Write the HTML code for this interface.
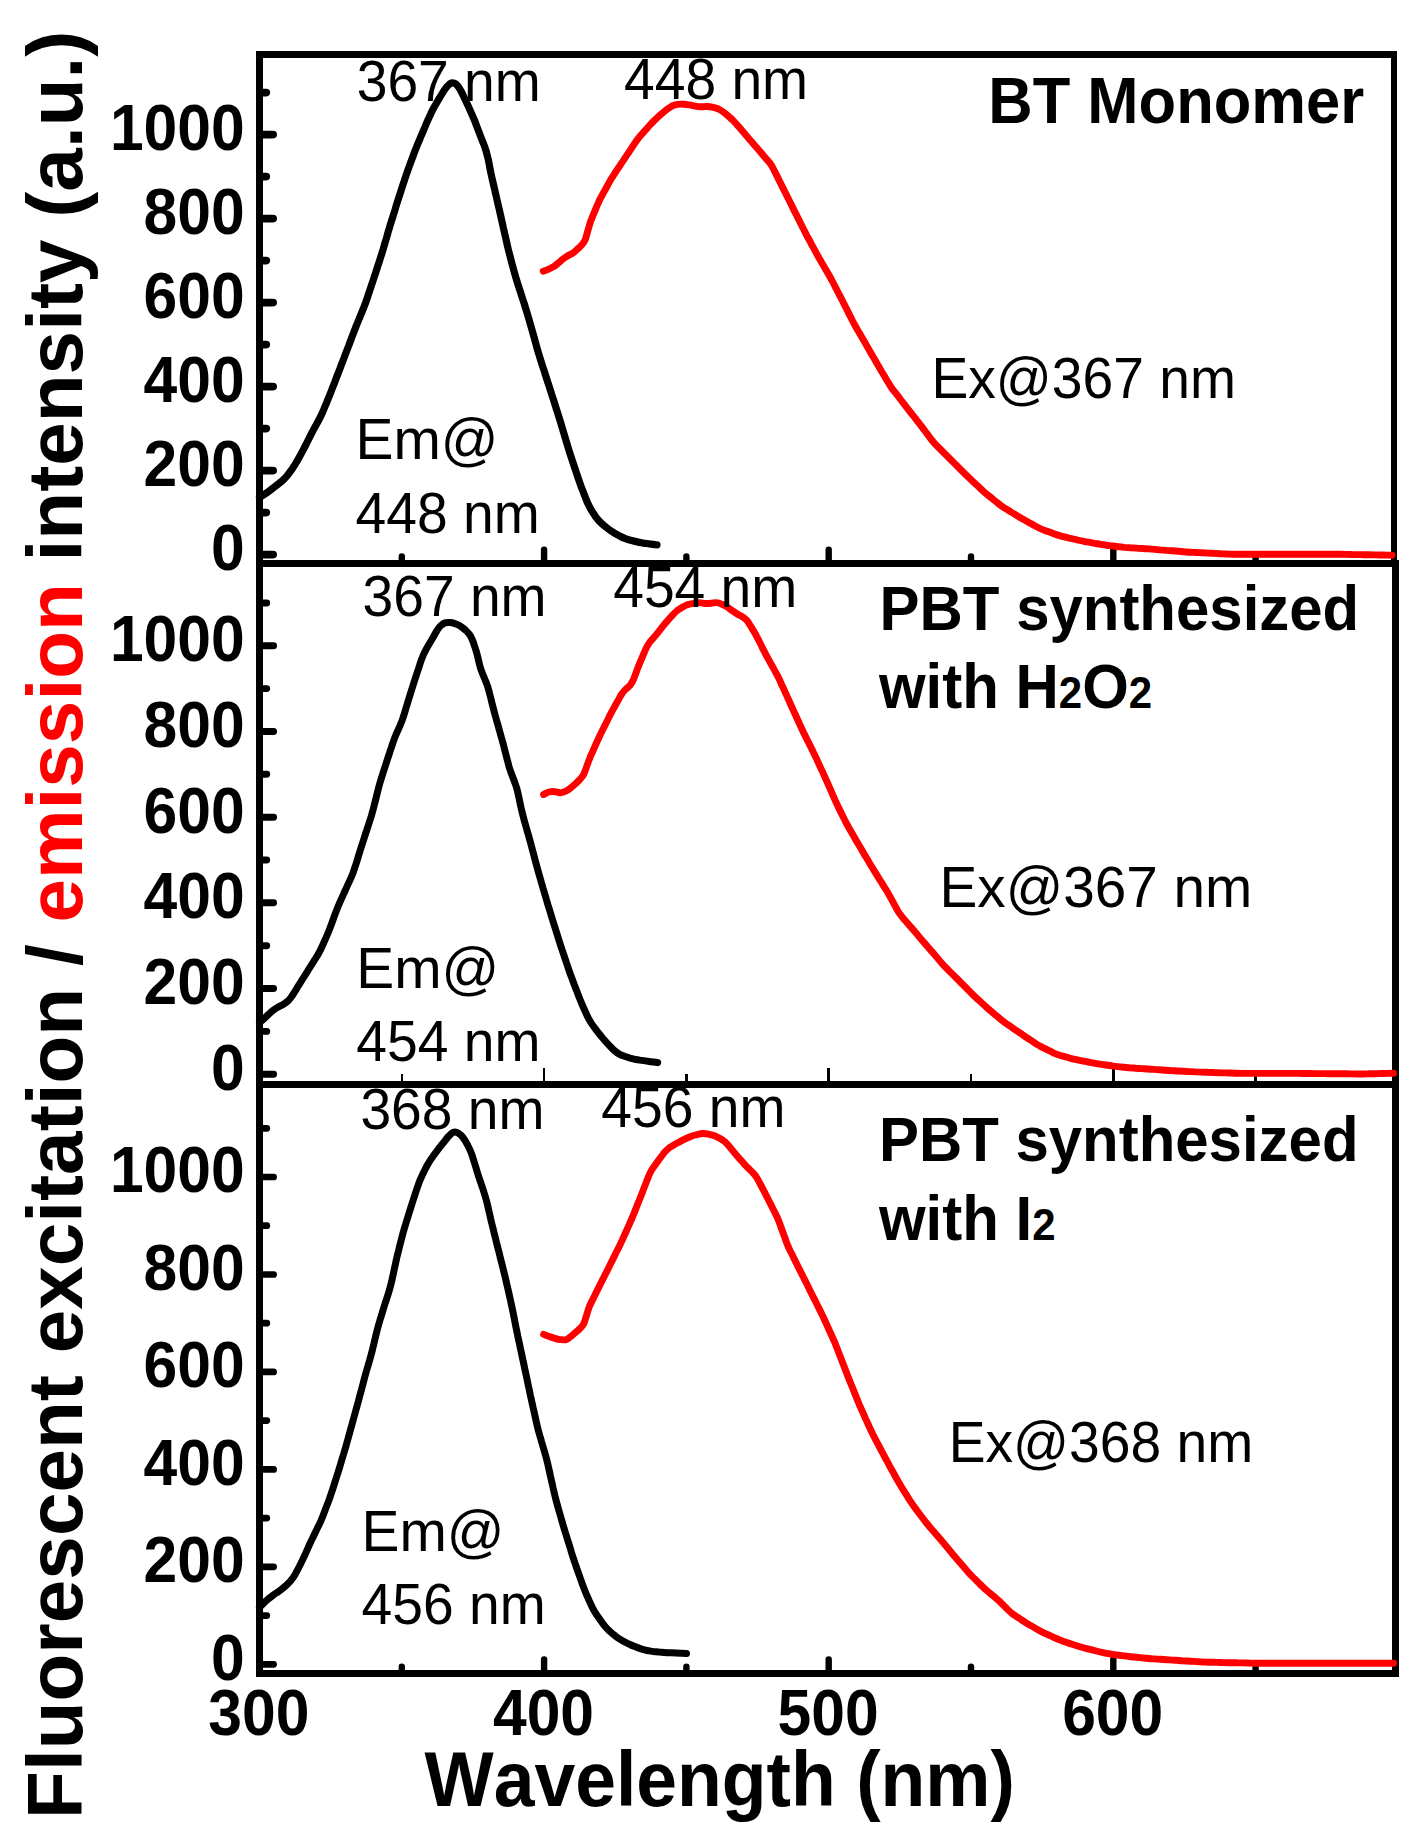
<!DOCTYPE html>
<html lang="en"><head><meta charset="utf-8"><title>Fluorescent excitation / emission spectra</title>
<style>
html,body{margin:0;padding:0;background:#fff;}
body{width:1411px;height:1840px;overflow:hidden;}
svg{display:block;}
.cr{shape-rendering:crispEdges;}
text{font-family:"Liberation Sans", Arial, Helvetica, sans-serif;fill:#000;font-kerning:none;}
.b{font-weight:700;}
.tk{font-weight:700;font-size:60.6px;}
.an{font-size:55.2px;}
.ti{font-weight:700;font-size:60px;}
.ti1{font-weight:700;font-size:61.5px;}
.ti2{font-weight:700;font-size:59.95px;}
.sub{font-size:42px;}
.ax{font-weight:700;font-size:78.3px;}
.axx{font-weight:700;font-size:73.3px;}
.red{fill:#f00;}
</style></head><body>
<svg width="1411" height="1840" viewBox="0 0 1411 1840">
<rect width="1411" height="1840" fill="#fff"/>
<g fill="none" stroke-linecap="round" stroke-linejoin="round">
<path d="M259.5 497.5C260.3 497.0 262.9 495.4 264.5 494.3C266.2 493.1 267.8 492.0 269.4 490.8C271.0 489.6 272.6 488.4 274.2 487.2C275.8 486.0 277.4 484.7 278.9 483.5C280.5 482.2 282.1 481.0 283.5 479.6C284.9 478.2 286.2 476.8 287.5 475.2C288.8 473.7 289.9 472.1 291.1 470.4C292.2 468.8 293.3 467.1 294.4 465.5C295.5 463.8 296.5 462.0 297.5 460.3C298.5 458.6 299.4 456.8 300.4 455.1C301.4 453.3 302.3 451.6 303.3 449.8C304.2 448.0 305.1 446.2 306.0 444.5C306.9 442.7 307.8 440.9 308.7 439.1C309.6 437.3 310.5 435.5 311.4 433.7C312.3 432.0 313.3 430.2 314.2 428.4C315.2 426.7 316.2 425.0 317.1 423.2C318.1 421.4 319.0 419.7 319.9 417.9C320.8 416.1 321.7 414.3 322.5 412.5C323.3 410.7 324.0 408.8 324.8 407.0C325.6 405.1 326.4 403.3 327.1 401.4C327.9 399.6 328.6 397.7 329.4 395.9C330.1 394.0 330.9 392.1 331.6 390.3C332.3 388.4 333.0 386.6 333.8 384.7C334.5 382.8 335.2 381.0 335.9 379.1C336.6 377.2 337.3 375.4 338.1 373.5C338.8 371.6 339.5 369.8 340.2 367.9C340.9 366.0 341.6 364.1 342.4 362.3C343.1 360.4 343.8 358.5 344.5 356.7C345.2 354.8 345.9 352.9 346.6 351.1C347.4 349.2 348.1 347.3 348.8 345.5C349.5 343.6 350.2 341.7 350.9 339.9C351.6 338.0 352.3 336.1 353.0 334.2C353.7 332.4 354.4 330.5 355.2 328.6C355.9 326.8 356.6 324.9 357.4 323.1C358.1 321.2 358.9 319.4 359.7 317.5C360.4 315.7 361.2 313.8 362.0 312.0C362.7 310.1 363.5 308.3 364.2 306.4C365.0 304.6 365.6 302.7 366.3 300.8C367.0 298.9 367.6 297.0 368.2 295.1C368.9 293.2 369.5 291.3 370.1 289.4C370.8 287.5 371.4 285.6 372.0 283.7C372.7 281.8 373.3 279.9 373.9 278.0C374.5 276.1 375.2 274.2 375.8 272.3C376.4 270.4 377.0 268.5 377.6 266.6C378.3 264.7 378.9 262.8 379.5 260.9C380.1 259.0 380.7 257.1 381.3 255.2C381.9 253.3 382.5 251.4 383.1 249.5C383.7 247.6 384.2 245.6 384.8 243.7C385.3 241.8 385.9 239.9 386.5 238.0C387.0 236.0 387.6 234.1 388.1 232.2C388.7 230.3 389.3 228.4 389.8 226.4C390.4 224.5 391.0 222.6 391.6 220.7C392.2 218.8 392.8 216.9 393.4 215.0C394.0 213.1 394.6 211.2 395.2 209.2C395.7 207.3 396.3 205.4 396.9 203.5C397.5 201.6 398.1 199.7 398.7 197.8C399.4 195.9 400.0 194.0 400.6 192.1C401.2 190.2 401.8 188.3 402.4 186.4C403.0 184.5 403.6 182.6 404.3 180.7C404.9 178.8 405.5 176.9 406.2 175.0C406.8 173.1 407.5 171.2 408.2 169.3C408.8 167.4 409.5 165.6 410.2 163.7C410.9 161.8 411.6 159.9 412.3 158.1C413.0 156.2 413.7 154.3 414.4 152.4C415.1 150.6 415.8 148.7 416.6 146.8C417.3 145.0 418.1 143.1 418.9 141.3C419.7 139.5 420.4 137.6 421.2 135.8C422.0 133.9 422.8 132.1 423.6 130.3C424.4 128.4 425.1 126.6 425.9 124.7C426.7 122.9 427.5 121.1 428.3 119.2C429.1 117.4 429.9 115.6 430.8 113.8C431.6 112.0 432.5 110.2 433.4 108.4C434.4 106.6 435.4 104.9 436.4 103.2C437.4 101.4 438.4 99.7 439.5 98.0C440.5 96.3 441.5 94.6 442.6 92.9C443.6 91.2 444.7 89.4 445.9 88.0C447.1 86.5 448.4 84.8 449.7 83.9C451.1 83.1 452.6 82.7 453.9 83.1C455.3 83.4 456.7 84.8 457.9 86.2C459.0 87.5 460.0 89.4 461.0 91.1C462.0 92.8 462.8 94.7 463.7 96.5C464.5 98.3 465.4 100.1 466.2 101.9C467.1 103.7 467.9 105.5 468.8 107.3C469.6 109.2 470.4 111.0 471.2 112.8C472.0 114.6 472.9 116.5 473.6 118.3C474.4 120.1 475.2 122.0 475.9 123.9C476.6 125.7 477.3 127.6 478.0 129.5C478.7 131.4 479.4 133.2 480.1 135.1C480.8 137.0 481.6 138.8 482.3 140.7C483.0 142.5 483.8 144.4 484.5 146.2C485.2 148.1 485.8 150.0 486.3 151.9C486.9 153.9 487.3 155.8 487.8 157.7C488.3 159.7 488.7 161.6 489.1 163.6C489.5 165.6 489.8 167.5 490.2 169.5C490.6 171.5 491.0 173.4 491.4 175.4C491.8 177.3 492.3 179.3 492.7 181.2C493.2 183.2 493.6 185.1 494.1 187.1C494.5 189.0 495.0 191.0 495.4 192.9C495.9 194.9 496.4 196.8 496.8 198.8C497.3 200.7 497.7 202.7 498.1 204.6C498.6 206.6 499.0 208.5 499.5 210.5C499.9 212.4 500.4 214.4 500.8 216.3C501.2 218.3 501.7 220.2 502.1 222.2C502.6 224.1 503.0 226.1 503.4 228.0C503.9 230.0 504.3 231.9 504.8 233.9C505.2 235.8 505.6 237.8 506.1 239.7C506.5 241.7 507.0 243.6 507.4 245.6C507.9 247.5 508.3 249.5 508.8 251.4C509.3 253.4 509.8 255.3 510.3 257.2C510.8 259.2 511.3 261.1 511.8 263.0C512.4 264.9 512.9 266.9 513.4 268.8C513.9 270.7 514.5 272.7 515.0 274.6C515.5 276.5 516.1 278.4 516.7 280.3C517.3 282.3 517.9 284.2 518.5 286.1C519.1 288.0 519.7 289.9 520.4 291.8C521.0 293.7 521.6 295.6 522.2 297.5C522.8 299.4 523.4 301.3 524.1 303.2C524.7 305.1 525.2 307.0 525.8 308.9C526.4 310.8 527.0 312.7 527.6 314.7C528.1 316.6 528.7 318.5 529.3 320.4C529.8 322.3 530.4 324.3 530.9 326.2C531.5 328.1 532.0 330.0 532.6 332.0C533.1 333.9 533.6 335.8 534.2 337.7C534.7 339.7 535.2 341.6 535.8 343.5C536.3 345.4 536.9 347.4 537.4 349.3C538.0 351.2 538.5 353.1 539.1 355.0C539.7 357.0 540.3 358.9 540.9 360.8C541.5 362.7 542.1 364.6 542.7 366.5C543.3 368.4 544.0 370.3 544.6 372.2C545.2 374.1 545.8 376.0 546.4 377.9C547.0 379.8 547.6 381.7 548.2 383.6C548.9 385.5 549.5 387.4 550.1 389.3C550.7 391.2 551.3 393.1 551.9 395.0C552.5 396.9 553.2 398.8 553.8 400.7C554.4 402.6 555.0 404.6 555.6 406.5C556.2 408.4 556.8 410.3 557.4 412.2C558.0 414.1 558.6 416.0 559.2 417.9C559.8 419.8 560.4 421.7 561.0 423.6C561.5 425.6 562.1 427.5 562.7 429.4C563.3 431.3 563.8 433.2 564.4 435.1C565.0 437.1 565.5 439.0 566.1 440.9C566.7 442.8 567.3 444.7 567.8 446.6C568.4 448.5 569.0 450.5 569.6 452.4C570.2 454.3 570.9 456.2 571.5 458.1C572.1 460.0 572.7 461.9 573.4 463.8C574.0 465.7 574.6 467.6 575.3 469.5C575.9 471.4 576.5 473.3 577.2 475.1C577.8 477.0 578.4 478.9 579.1 480.8C579.8 482.7 580.4 484.6 581.1 486.5C581.8 488.3 582.6 490.2 583.3 492.1C584.0 493.9 584.7 495.8 585.5 497.7C586.2 499.5 586.9 501.4 587.7 503.2C588.6 505.0 589.5 506.8 590.4 508.5C591.4 510.3 592.5 512.0 593.6 513.6C594.6 515.3 595.7 517.0 597.0 518.5C598.2 520.1 599.6 521.5 601.0 522.9C602.4 524.2 604.0 525.5 605.5 526.8C607.1 528.1 608.6 529.3 610.3 530.4C611.9 531.6 613.6 532.6 615.3 533.6C617.0 534.6 618.8 535.6 620.6 536.5C622.3 537.4 624.2 538.2 626.0 538.8C627.9 539.5 629.8 540.0 631.8 540.5C633.7 541.0 635.6 541.5 637.6 541.9C639.5 542.4 641.5 542.7 643.5 543.1C645.4 543.4 647.4 543.6 649.4 543.9C651.3 544.1 653.9 544.4 655.1 544.6C656.4 544.7 656.7 544.8 657.0 544.8" stroke="#000" stroke-width="7.2"/>
<path d="M259.5 1022.5C260.3 1021.9 262.6 1020.0 264.1 1018.6C265.5 1017.3 266.9 1015.8 268.4 1014.5C269.9 1013.2 271.3 1011.7 272.8 1010.6C274.4 1009.4 276.1 1008.3 277.8 1007.3C279.5 1006.3 281.4 1005.5 283.1 1004.5C284.7 1003.5 286.4 1002.4 287.8 1001.1C289.2 999.8 290.4 998.2 291.5 996.7C292.7 995.1 293.7 993.3 294.8 991.6C295.8 989.9 296.9 988.2 297.9 986.5C299.0 984.8 300.1 983.1 301.1 981.4C302.2 979.7 303.2 978.1 304.3 976.4C305.3 974.7 306.4 973.0 307.5 971.3C308.5 969.6 309.6 967.9 310.7 966.2C311.8 964.5 312.8 962.8 313.9 961.1C315.0 959.5 316.1 957.8 317.1 956.1C318.1 954.3 319.1 952.6 320.0 950.8C320.9 949.1 321.7 947.2 322.6 945.4C323.4 943.6 324.2 941.8 325.0 939.9C325.8 938.1 326.7 936.3 327.4 934.5C328.2 932.6 329.0 930.8 329.7 928.9C330.4 927.0 331.1 925.2 331.8 923.3C332.5 921.4 333.2 919.5 333.8 917.6C334.5 915.8 335.2 913.9 335.9 912.0C336.6 910.1 337.4 908.3 338.1 906.4C338.9 904.6 339.7 902.8 340.5 900.9C341.3 899.1 342.1 897.3 343.0 895.5C343.8 893.6 344.6 891.8 345.4 890.0C346.3 888.2 347.1 886.4 347.9 884.5C348.8 882.7 349.6 880.9 350.4 879.1C351.3 877.3 352.1 875.4 352.8 873.6C353.5 871.7 354.1 869.8 354.7 867.9C355.4 866.0 356.0 864.1 356.6 862.2C357.2 860.3 357.8 858.4 358.3 856.5C358.9 854.6 359.5 852.6 360.1 850.7C360.7 848.8 361.3 846.9 361.9 845.0C362.5 843.1 363.2 841.2 363.8 839.3C364.4 837.4 365.0 835.5 365.6 833.6C366.2 831.7 366.9 829.8 367.5 827.9C368.1 826.0 368.7 824.1 369.3 822.2C370.0 820.3 370.6 818.4 371.2 816.5C371.7 814.6 372.3 812.6 372.8 810.7C373.4 808.8 373.8 806.8 374.3 804.9C374.8 803.0 375.3 801.0 375.8 799.1C376.3 797.1 376.8 795.2 377.2 793.3C377.7 791.3 378.2 789.4 378.7 787.4C379.2 785.5 379.7 783.6 380.3 781.7C380.9 779.7 381.5 777.8 382.1 775.9C382.7 774.0 383.3 772.1 383.9 770.2C384.5 768.3 385.2 766.4 385.8 764.5C386.4 762.6 387.0 760.7 387.6 758.8C388.3 756.9 388.9 755.0 389.5 753.1C390.1 751.2 390.7 749.3 391.4 747.4C392.0 745.5 392.6 743.6 393.3 741.7C394.0 739.8 394.6 738.0 395.4 736.1C396.1 734.3 397.0 732.4 397.8 730.6C398.6 728.8 399.5 727.0 400.2 725.2C401.0 723.3 401.7 721.5 402.4 719.6C403.1 717.7 403.7 715.8 404.3 713.9C404.9 712.0 405.4 710.1 406.0 708.1C406.6 706.2 407.2 704.3 407.7 702.4C408.3 700.5 408.9 698.6 409.5 696.7C410.1 694.7 410.7 692.8 411.3 690.9C411.9 689.0 412.5 687.1 413.1 685.2C413.7 683.3 414.3 681.4 414.9 679.5C415.6 677.6 416.2 675.7 416.8 673.8C417.4 671.9 418.0 670.0 418.7 668.1C419.3 666.2 419.9 664.3 420.5 662.4C421.2 660.5 421.8 658.6 422.6 656.8C423.3 654.9 424.2 653.1 425.1 651.3C426.0 649.6 427.0 647.8 428.0 646.1C429.0 644.4 430.0 642.7 431.0 640.9C432.0 639.2 433.0 637.5 434.0 635.7C435.0 634.0 435.9 632.2 437.0 630.5C438.1 628.9 439.2 627.2 440.5 625.9C441.9 624.7 443.4 623.5 445.1 622.9C446.7 622.3 448.6 622.4 450.4 622.6C452.2 622.8 454.2 623.4 456.0 624.1C457.8 624.8 459.6 625.7 461.2 626.7C462.9 627.8 464.4 629.1 465.8 630.4C467.2 631.8 468.6 633.2 469.7 634.8C470.8 636.4 471.6 638.2 472.4 640.0C473.2 641.8 473.8 643.7 474.4 645.6C475.1 647.5 475.7 649.4 476.2 651.3C476.8 653.2 477.3 655.1 477.8 657.1C478.3 659.0 478.6 661.0 479.1 662.9C479.6 664.9 480.1 666.8 480.7 668.7C481.3 670.6 482.1 672.4 482.8 674.3C483.6 676.1 484.4 678.0 485.1 679.8C485.9 681.7 486.6 683.5 487.3 685.4C487.9 687.3 488.4 689.2 489.0 691.1C489.5 693.1 490.0 695.0 490.5 697.0C491.0 698.9 491.4 700.8 491.9 702.8C492.4 704.7 492.9 706.7 493.4 708.6C493.9 710.5 494.4 712.5 494.9 714.4C495.4 716.3 496.0 718.2 496.5 720.2C497.1 722.1 497.6 724.0 498.2 725.9C498.7 727.9 499.3 729.8 499.8 731.7C500.4 733.6 500.9 735.6 501.4 737.5C502.0 739.4 502.5 741.3 503.0 743.3C503.6 745.2 504.0 747.1 504.5 749.1C505.0 751.0 505.5 753.0 506.0 754.9C506.5 756.8 507.0 758.8 507.5 760.7C508.0 762.6 508.5 764.6 509.0 766.5C509.6 768.4 510.3 770.3 510.9 772.2C511.6 774.1 512.3 775.9 513.0 777.8C513.7 779.7 514.5 781.5 515.1 783.4C515.8 785.3 516.4 787.2 517.0 789.1C517.5 791.0 517.9 793.0 518.3 794.9C518.8 796.9 519.2 798.8 519.6 800.8C520.0 802.8 520.4 804.7 520.8 806.7C521.3 808.6 521.7 810.6 522.2 812.5C522.6 814.5 523.2 816.4 523.7 818.3C524.2 820.3 524.7 822.2 525.3 824.1C525.8 826.0 526.4 827.9 526.9 829.9C527.5 831.8 528.0 833.7 528.6 835.6C529.1 837.6 529.6 839.5 530.2 841.4C530.7 843.4 531.2 845.3 531.7 847.2C532.2 849.2 532.8 851.1 533.3 853.0C533.8 855.0 534.3 856.9 534.8 858.8C535.3 860.7 535.8 862.7 536.4 864.6C536.9 866.5 537.4 868.5 537.9 870.4C538.5 872.3 539.0 874.3 539.6 876.2C540.1 878.1 540.7 880.0 541.2 881.9C541.8 883.9 542.4 885.8 542.9 887.7C543.5 889.6 544.1 891.5 544.6 893.5C545.2 895.4 545.8 897.3 546.3 899.2C546.9 901.1 547.4 903.0 548.0 905.0C548.6 906.9 549.2 908.8 549.8 910.7C550.3 912.6 550.9 914.5 551.5 916.4C552.1 918.3 552.7 920.3 553.3 922.2C553.9 924.1 554.5 926.0 555.1 927.9C555.7 929.8 556.3 931.7 556.9 933.6C557.5 935.5 558.1 937.4 558.7 939.4C559.3 941.3 559.9 943.2 560.5 945.1C561.1 947.0 561.8 948.9 562.4 950.8C563.0 952.6 563.7 954.5 564.3 956.4C564.9 958.3 565.6 960.2 566.2 962.1C566.9 964.0 567.5 965.9 568.1 967.8C568.8 969.7 569.4 971.6 570.1 973.5C570.8 975.4 571.5 977.2 572.2 979.1C572.9 981.0 573.6 982.8 574.3 984.7C575.0 986.6 575.7 988.5 576.5 990.3C577.2 992.2 577.9 994.1 578.6 995.9C579.4 997.8 580.1 999.6 580.9 1001.5C581.6 1003.3 582.4 1005.2 583.2 1007.0C584.0 1008.8 584.8 1010.7 585.7 1012.5C586.5 1014.3 587.3 1016.1 588.2 1017.9C589.1 1019.6 590.2 1021.4 591.2 1023.0C592.3 1024.7 593.5 1026.3 594.7 1027.9C595.9 1029.5 597.1 1031.1 598.3 1032.7C599.6 1034.3 600.8 1035.8 602.1 1037.4C603.3 1038.9 604.7 1040.4 606.0 1041.9C607.4 1043.4 608.7 1044.8 610.1 1046.3C611.5 1047.7 612.8 1049.2 614.3 1050.5C615.8 1051.8 617.3 1053.0 619.0 1053.9C620.7 1054.9 622.6 1055.6 624.4 1056.3C626.3 1057.0 628.2 1057.6 630.1 1058.2C632.0 1058.7 634.0 1059.1 635.9 1059.5C637.9 1059.9 639.9 1060.1 641.8 1060.4C643.8 1060.7 645.8 1061.0 647.8 1061.2C649.8 1061.5 652.1 1061.8 653.7 1062.0C655.4 1062.3 657.0 1062.5 657.7 1062.6" stroke="#000" stroke-width="7.0"/>
<path d="M259.5 1607.3C260.2 1606.6 262.3 1604.5 263.8 1603.1C265.2 1601.7 266.6 1600.3 268.2 1599.0C269.7 1597.7 271.3 1596.6 272.9 1595.4C274.5 1594.2 276.2 1593.1 277.8 1592.0C279.4 1590.8 281.1 1589.7 282.6 1588.4C284.2 1587.2 285.7 1585.9 287.1 1584.5C288.5 1583.1 290.0 1581.7 291.2 1580.1C292.4 1578.6 293.5 1577.0 294.6 1575.3C295.6 1573.6 296.5 1571.8 297.5 1570.0C298.4 1568.3 299.3 1566.5 300.2 1564.7C301.1 1562.9 302.0 1561.1 302.9 1559.3C303.7 1557.5 304.6 1555.7 305.4 1553.9C306.2 1552.1 307.0 1550.2 307.8 1548.4C308.6 1546.6 309.4 1544.7 310.3 1542.9C311.1 1541.1 312.0 1539.3 312.9 1537.5C313.7 1535.7 314.6 1533.9 315.5 1532.1C316.4 1530.3 317.3 1528.5 318.1 1526.7C319.0 1524.9 319.9 1523.1 320.7 1521.3C321.5 1519.5 322.3 1517.6 323.0 1515.8C323.7 1513.9 324.4 1512.0 325.1 1510.2C325.9 1508.3 326.6 1506.4 327.3 1504.6C328.0 1502.7 328.7 1500.8 329.4 1498.9C330.0 1497.1 330.7 1495.2 331.3 1493.3C332.0 1491.4 332.6 1489.5 333.2 1487.6C333.8 1485.7 334.4 1483.8 335.0 1481.9C335.6 1480.0 336.3 1478.1 336.9 1476.1C337.5 1474.2 338.1 1472.3 338.7 1470.4C339.3 1468.5 339.8 1466.6 340.4 1464.7C341.0 1462.8 341.6 1460.9 342.1 1458.9C342.7 1457.0 343.3 1455.1 343.9 1453.2C344.4 1451.3 345.0 1449.4 345.6 1447.4C346.1 1445.5 346.7 1443.6 347.2 1441.7C347.7 1439.7 348.3 1437.8 348.8 1435.9C349.3 1434.0 349.9 1432.0 350.4 1430.1C350.9 1428.2 351.5 1426.2 352.0 1424.3C352.5 1422.4 353.1 1420.5 353.6 1418.5C354.1 1416.6 354.6 1414.7 355.2 1412.7C355.7 1410.8 356.2 1408.9 356.8 1407.0C357.3 1405.0 357.8 1403.1 358.4 1401.2C358.9 1399.2 359.4 1397.3 359.9 1395.4C360.4 1393.5 361.0 1391.5 361.5 1389.6C362.0 1387.7 362.5 1385.7 363.0 1383.8C363.5 1381.9 364.0 1379.9 364.5 1378.0C365.1 1376.1 365.6 1374.1 366.1 1372.2C366.7 1370.3 367.2 1368.4 367.8 1366.4C368.4 1364.5 368.9 1362.6 369.5 1360.7C370.0 1358.8 370.6 1356.8 371.1 1354.9C371.6 1353.0 372.1 1351.0 372.6 1349.1C373.1 1347.1 373.5 1345.2 374.0 1343.3C374.4 1341.3 374.9 1339.4 375.4 1337.4C375.8 1335.5 376.3 1333.5 376.8 1331.6C377.3 1329.7 377.8 1327.7 378.3 1325.8C378.9 1323.9 379.5 1322.0 380.0 1320.0C380.6 1318.1 381.2 1316.2 381.8 1314.3C382.3 1312.4 382.9 1310.5 383.5 1308.6C384.1 1306.7 384.7 1304.7 385.3 1302.8C386.0 1300.9 386.6 1299.0 387.2 1297.1C387.8 1295.2 388.5 1293.3 389.0 1291.4C389.6 1289.5 390.1 1287.6 390.6 1285.7C391.1 1283.7 391.6 1281.8 392.0 1279.8C392.4 1277.9 392.8 1275.9 393.3 1274.0C393.7 1272.0 394.1 1270.0 394.5 1268.1C395.0 1266.1 395.4 1264.2 395.8 1262.2C396.2 1260.3 396.7 1258.3 397.1 1256.4C397.6 1254.4 398.1 1252.5 398.6 1250.5C399.1 1248.6 399.5 1246.7 400.0 1244.7C400.5 1242.8 401.0 1240.8 401.5 1238.9C402.0 1237.0 402.5 1235.0 403.0 1233.1C403.6 1231.2 404.1 1229.3 404.7 1227.3C405.3 1225.4 405.9 1223.5 406.4 1221.6C407.0 1219.7 407.6 1217.8 408.2 1215.9C408.8 1214.0 409.4 1212.0 410.0 1210.1C410.6 1208.2 411.2 1206.3 411.8 1204.4C412.4 1202.5 413.0 1200.6 413.6 1198.7C414.3 1196.8 414.9 1194.9 415.5 1193.0C416.2 1191.1 416.8 1189.2 417.4 1187.3C418.1 1185.4 418.7 1183.5 419.4 1181.7C420.2 1179.8 420.9 1178.0 421.8 1176.2C422.6 1174.3 423.5 1172.6 424.4 1170.8C425.3 1169.0 426.2 1167.2 427.1 1165.5C428.1 1163.7 429.1 1162.0 430.2 1160.3C431.3 1158.6 432.5 1157.0 433.6 1155.4C434.8 1153.8 436.0 1152.2 437.2 1150.6C438.4 1149.0 439.6 1147.4 440.9 1145.8C442.1 1144.3 443.4 1142.7 444.6 1141.2C445.9 1139.6 447.1 1137.9 448.4 1136.5C449.7 1135.2 451.0 1133.5 452.3 1132.8C453.7 1132.1 455.2 1131.9 456.7 1132.3C458.1 1132.7 459.8 1134.0 461.1 1135.2C462.4 1136.5 463.6 1138.2 464.6 1139.8C465.7 1141.4 466.6 1143.3 467.6 1145.0C468.5 1146.8 469.4 1148.6 470.2 1150.4C471.0 1152.2 471.7 1154.1 472.3 1156.0C473.0 1157.9 473.5 1159.8 474.1 1161.7C474.7 1163.6 475.3 1165.5 475.9 1167.4C476.4 1169.3 477.0 1171.3 477.6 1173.2C478.2 1175.1 478.9 1177.0 479.5 1178.9C480.1 1180.8 480.8 1182.7 481.4 1184.6C482.0 1186.5 482.7 1188.4 483.3 1190.3C483.9 1192.2 484.5 1194.1 485.1 1196.0C485.7 1197.9 486.2 1199.8 486.7 1201.7C487.2 1203.7 487.7 1205.6 488.1 1207.6C488.6 1209.5 489.0 1211.5 489.5 1213.4C489.9 1215.4 490.4 1217.3 490.8 1219.3C491.3 1221.2 491.7 1223.2 492.2 1225.1C492.7 1227.1 493.1 1229.0 493.6 1230.9C494.1 1232.9 494.6 1234.8 495.1 1236.8C495.6 1238.7 496.0 1240.6 496.5 1242.6C497.0 1244.5 497.5 1246.5 498.0 1248.4C498.5 1250.3 499.0 1252.3 499.5 1254.2C499.9 1256.2 500.4 1258.1 500.9 1260.0C501.4 1262.0 501.9 1263.9 502.4 1265.9C502.9 1267.8 503.4 1269.7 503.8 1271.7C504.3 1273.6 504.8 1275.6 505.3 1277.5C505.7 1279.4 506.2 1281.4 506.6 1283.3C507.1 1285.3 507.5 1287.2 508.0 1289.2C508.4 1291.1 508.8 1293.1 509.3 1295.0C509.7 1297.0 510.2 1298.9 510.6 1300.9C511.0 1302.9 511.5 1304.8 511.9 1306.8C512.3 1308.7 512.7 1310.7 513.1 1312.6C513.5 1314.6 513.9 1316.6 514.3 1318.5C514.6 1320.5 515.0 1322.4 515.4 1324.4C515.8 1326.4 516.2 1328.3 516.6 1330.3C517.0 1332.2 517.4 1334.2 517.8 1336.2C518.2 1338.1 518.6 1340.1 519.1 1342.0C519.5 1344.0 519.9 1345.9 520.3 1347.9C520.7 1349.9 521.2 1351.8 521.6 1353.8C522.0 1355.7 522.4 1357.7 522.8 1359.6C523.3 1361.6 523.7 1363.5 524.1 1365.5C524.5 1367.5 524.9 1369.4 525.3 1371.4C525.8 1373.3 526.2 1375.3 526.6 1377.2C527.0 1379.2 527.4 1381.2 527.8 1383.1C528.2 1385.1 528.6 1387.0 529.1 1389.0C529.5 1390.9 529.9 1392.9 530.3 1394.9C530.7 1396.8 531.2 1398.8 531.6 1400.7C532.0 1402.7 532.5 1404.6 532.9 1406.6C533.3 1408.5 533.8 1410.5 534.2 1412.4C534.6 1414.4 535.1 1416.3 535.5 1418.3C535.9 1420.2 536.4 1422.2 536.8 1424.1C537.3 1426.1 537.7 1428.0 538.2 1430.0C538.7 1431.9 539.3 1433.8 539.8 1435.7C540.4 1437.7 541.0 1439.6 541.5 1441.5C542.1 1443.4 542.6 1445.3 543.2 1447.3C543.8 1449.2 544.3 1451.1 544.9 1453.0C545.4 1454.9 546.0 1456.9 546.5 1458.8C547.0 1460.7 547.5 1462.7 547.9 1464.6C548.4 1466.6 548.8 1468.5 549.2 1470.5C549.7 1472.4 550.1 1474.4 550.5 1476.3C551.0 1478.3 551.4 1480.2 551.8 1482.2C552.3 1484.1 552.7 1486.1 553.1 1488.0C553.6 1490.0 554.0 1492.0 554.5 1493.9C554.9 1495.8 555.4 1497.8 555.9 1499.7C556.4 1501.7 557.0 1503.6 557.5 1505.5C558.0 1507.4 558.6 1509.4 559.1 1511.3C559.7 1513.2 560.2 1515.1 560.8 1517.0C561.3 1519.0 561.9 1520.9 562.4 1522.8C563.0 1524.7 563.6 1526.7 564.1 1528.6C564.7 1530.5 565.3 1532.4 565.9 1534.3C566.5 1536.2 567.1 1538.1 567.7 1540.0C568.3 1541.9 568.9 1543.9 569.5 1545.8C570.1 1547.7 570.7 1549.6 571.2 1551.5C571.8 1553.4 572.4 1555.3 573.0 1557.2C573.7 1559.1 574.3 1561.0 574.9 1562.9C575.6 1564.8 576.2 1566.7 576.9 1568.6C577.5 1570.5 578.2 1572.3 578.9 1574.2C579.6 1576.1 580.2 1578.0 580.9 1579.9C581.6 1581.8 582.2 1583.7 582.9 1585.5C583.6 1587.4 584.3 1589.3 585.1 1591.1C585.8 1593.0 586.6 1594.8 587.4 1596.7C588.2 1598.5 589.0 1600.3 589.8 1602.1C590.7 1604.0 591.5 1605.8 592.4 1607.6C593.3 1609.3 594.3 1611.1 595.3 1612.8C596.4 1614.4 597.5 1616.1 598.7 1617.7C599.8 1619.4 601.0 1621.0 602.1 1622.6C603.3 1624.2 604.5 1625.8 605.8 1627.3C607.1 1628.8 608.5 1630.2 610.0 1631.5C611.5 1632.9 613.0 1634.2 614.6 1635.4C616.2 1636.6 617.7 1637.8 619.4 1638.9C621.1 1640.0 622.8 1641.0 624.6 1641.9C626.3 1642.8 628.1 1643.7 630.0 1644.5C631.8 1645.4 633.6 1646.1 635.5 1646.8C637.3 1647.6 639.2 1648.3 641.1 1648.9C643.0 1649.5 644.9 1650.1 646.9 1650.5C648.8 1650.9 650.8 1651.1 652.8 1651.4C654.7 1651.6 656.7 1651.8 658.7 1652.0C660.7 1652.1 662.7 1652.3 664.7 1652.4C666.7 1652.6 668.7 1652.7 670.7 1652.8C672.7 1652.9 674.7 1653.0 676.7 1653.1C678.7 1653.2 681.0 1653.3 682.6 1653.3C684.2 1653.4 685.9 1653.5 686.5 1653.5" stroke="#000" stroke-width="7.0"/>
</g>
<g class="cr" fill="none" stroke="#000" stroke-linecap="butt">
<path d="M256.1 54.5 H1397.0" stroke-width="6.8"/>
<path d="M1393.7 54.5 V563.4" stroke-width="6.0"/>
<path d="M259.5 51.1 V1676.9" stroke-width="6.7"/>
<path d="M259.5 563.4 H1398.9" stroke-width="6.7"/>
<path d="M1395.5 561.9 V1676.9" stroke-width="6.8"/>
<path d="M259.5 1084.5 H1395.5" stroke-width="7"/>
<path d="M259.5 1673.4 H1395.5" stroke-width="7"/>
</g>
<g fill="none" stroke="#000" stroke-width="7.4" stroke-linecap="round">
<path d="M261.0 554.6 H273.2" stroke-width="7.6"/>
<path d="M261.0 512.6 H266.3" stroke-width="7.6"/>
<path d="M261.0 470.6 H273.2" stroke-width="7.6"/>
<path d="M261.0 428.6 H266.3" stroke-width="7.6"/>
<path d="M261.0 386.6 H273.2" stroke-width="7.6"/>
<path d="M261.0 344.6 H266.3" stroke-width="7.6"/>
<path d="M261.0 302.6 H273.2" stroke-width="7.6"/>
<path d="M261.0 260.6 H266.3" stroke-width="7.6"/>
<path d="M261.0 218.6 H273.2" stroke-width="7.6"/>
<path d="M261.0 176.6 H266.3" stroke-width="7.6"/>
<path d="M261.0 134.6 H273.2" stroke-width="7.6"/>
<path d="M261.0 92.6 H266.3" stroke-width="7.6"/>
<path d="M261.0 1074.2 H273.6" stroke-width="6.9"/>
<path d="M261.0 1031.4 H266.7" stroke-width="6.9"/>
<path d="M261.0 988.5 H273.6" stroke-width="6.9"/>
<path d="M261.0 945.7 H266.7" stroke-width="6.9"/>
<path d="M261.0 902.8 H273.6" stroke-width="6.9"/>
<path d="M261.0 860.0 H266.7" stroke-width="6.9"/>
<path d="M261.0 817.2 H273.6" stroke-width="6.9"/>
<path d="M261.0 774.3 H266.7" stroke-width="6.9"/>
<path d="M261.0 731.5 H273.6" stroke-width="6.9"/>
<path d="M261.0 688.6 H266.7" stroke-width="6.9"/>
<path d="M261.0 645.8 H273.6" stroke-width="6.9"/>
<path d="M261.0 603.0 H266.7" stroke-width="6.9"/>
<path d="M261.0 1664.3 H273.6" stroke-width="6.7"/>
<path d="M261.0 1615.6 H266.8" stroke-width="6.7"/>
<path d="M261.0 1566.8 H273.6" stroke-width="6.7"/>
<path d="M261.0 1518.1 H266.8" stroke-width="6.7"/>
<path d="M261.0 1469.4 H273.6" stroke-width="6.7"/>
<path d="M261.0 1420.6 H266.8" stroke-width="6.7"/>
<path d="M261.0 1371.9 H273.6" stroke-width="6.7"/>
<path d="M261.0 1323.2 H266.8" stroke-width="6.7"/>
<path d="M261.0 1274.5 H273.6" stroke-width="6.7"/>
<path d="M261.0 1225.7 H266.8" stroke-width="6.7"/>
<path d="M261.0 1177.0 H273.6" stroke-width="6.7"/>
<path d="M261.0 1128.3 H266.8" stroke-width="6.7"/>
<path d="M401.8 563.4 V556.4" stroke-width="6.4"/>
<path d="M544.1 563.4 V549.7" stroke-width="6.4"/>
<path d="M686.4 563.4 V556.4" stroke-width="6.4"/>
<path d="M828.7 563.4 V549.7" stroke-width="6.4"/>
<path d="M971.0 563.4 V556.4" stroke-width="6.4"/>
<path d="M1113.3 563.4 V549.7" stroke-width="6.4"/>
<path d="M1255.6 563.4 V556.4" stroke-width="6.4"/>
<path d="M401.8 1673.4 V1666.8" stroke-width="6.4"/>
<path d="M544.1 1673.4 V1659.4" stroke-width="6.4"/>
<path d="M686.4 1673.4 V1666.8" stroke-width="6.4"/>
<path d="M828.7 1673.4 V1659.4" stroke-width="6.4"/>
<path d="M971.0 1673.4 V1666.8" stroke-width="6.4"/>
<path d="M1113.3 1673.4 V1659.4" stroke-width="6.4"/>
<path d="M1255.6 1673.4 V1666.8" stroke-width="6.4"/>
</g>
<g class="cr" fill="none" stroke="#000" stroke-width="2.6" stroke-linecap="butt">
<path d="M401.8 1084.5 V1074.3"/>
<path d="M544.1 1084.5 V1067.5"/>
<path d="M686.4 1084.5 V1074.3"/>
<path d="M828.7 1084.5 V1067.5"/>
<path d="M971.0 1084.5 V1074.3"/>
<path d="M1113.3 1084.5 V1067.5"/>
<path d="M1255.6 1084.5 V1074.3"/>
</g>
<g fill="none" stroke="#f00" stroke-linecap="round" stroke-linejoin="round" stroke-width="6.9">
<path d="M543.2 271.2C544.1 270.9 547.0 269.9 548.8 269.1C550.6 268.3 552.4 267.5 554.1 266.4C555.7 265.4 557.2 263.9 558.7 262.6C560.2 261.4 561.7 260.0 563.3 258.8C564.9 257.6 566.6 256.6 568.3 255.5C570.0 254.5 571.9 253.7 573.5 252.6C575.1 251.4 576.5 250.0 578.0 248.7C579.4 247.3 581.0 245.9 582.2 244.4C583.4 242.9 584.5 241.3 585.3 239.5C586.1 237.7 586.4 235.7 587.0 233.8C587.6 231.9 588.1 229.9 588.6 228.0C589.2 226.1 589.7 224.2 590.3 222.3C591.0 220.4 591.8 218.5 592.5 216.7C593.3 214.8 594.0 213.0 594.8 211.1C595.6 209.3 596.3 207.4 597.1 205.6C597.9 203.8 598.7 201.9 599.6 200.1C600.4 198.3 601.4 196.6 602.4 194.8C603.3 193.1 604.3 191.3 605.3 189.6C606.2 187.8 607.2 186.1 608.2 184.3C609.2 182.6 610.1 180.8 611.1 179.1C612.1 177.4 613.2 175.7 614.3 174.0C615.4 172.3 616.5 170.7 617.6 169.0C618.7 167.4 619.8 165.7 620.9 164.0C622.1 162.4 623.2 160.7 624.3 159.0C625.4 157.4 626.5 155.7 627.6 154.0C628.7 152.4 629.8 150.7 630.9 149.1C632.0 147.4 633.1 145.7 634.2 144.1C635.4 142.4 636.5 140.7 637.7 139.1C638.9 137.6 640.2 136.1 641.5 134.6C642.9 133.1 644.2 131.6 645.5 130.1C646.8 128.6 648.1 127.0 649.5 125.5C650.8 124.1 652.2 122.6 653.6 121.2C655.0 119.8 656.5 118.5 658.0 117.1C659.4 115.8 660.9 114.4 662.4 113.1C663.9 111.8 665.5 110.5 667.1 109.3C668.7 108.1 670.3 106.9 672.0 106.0C673.8 105.2 675.6 104.6 677.5 104.3C679.4 104.0 681.5 104.1 683.5 104.2C685.5 104.3 687.4 104.6 689.4 104.9C691.4 105.2 693.3 105.8 695.3 106.1C697.2 106.5 699.2 106.7 701.2 106.8C703.2 106.9 705.2 106.4 707.2 106.5C709.1 106.6 711.1 106.9 713.0 107.3C714.9 107.8 716.9 108.3 718.7 109.2C720.5 110.0 722.1 111.2 723.7 112.3C725.3 113.5 726.8 114.9 728.3 116.2C729.8 117.5 731.4 118.7 732.8 120.1C734.2 121.5 735.5 123.0 736.8 124.5C738.1 126.0 739.4 127.6 740.7 129.1C742.0 130.6 743.3 132.1 744.6 133.6C745.9 135.1 747.2 136.7 748.5 138.2C749.8 139.7 751.2 141.2 752.5 142.7C753.8 144.3 755.1 145.8 756.4 147.3C757.7 148.8 759.0 150.3 760.3 151.8C761.6 153.4 762.9 154.9 764.2 156.4C765.5 157.9 766.8 159.4 768.1 160.9C769.3 162.5 770.6 164.0 771.7 165.7C772.7 167.4 773.6 169.2 774.5 171.0C775.4 172.8 776.3 174.6 777.2 176.4C778.0 178.2 778.9 179.9 779.8 181.7C780.7 183.5 781.6 185.3 782.5 187.1C783.4 188.9 784.3 190.7 785.2 192.5C786.1 194.3 787.0 196.1 787.9 197.8C788.8 199.6 789.7 201.4 790.6 203.2C791.4 205.0 792.3 206.8 793.2 208.6C794.1 210.4 795.0 212.2 795.9 213.9C796.8 215.7 797.7 217.5 798.6 219.3C799.5 221.1 800.4 222.9 801.3 224.7C802.2 226.5 803.1 228.3 804.0 230.0C804.9 231.8 805.8 233.6 806.7 235.4C807.7 237.1 808.6 238.9 809.6 240.6C810.5 242.4 811.5 244.2 812.4 245.9C813.4 247.7 814.3 249.4 815.3 251.2C816.2 253.0 817.2 254.7 818.2 256.5C819.1 258.2 820.2 259.9 821.2 261.7C822.2 263.4 823.2 265.1 824.2 266.9C825.2 268.6 826.2 270.3 827.2 272.0C828.2 273.8 829.2 275.5 830.2 277.2C831.2 279.0 832.1 280.8 833.0 282.5C834.0 284.3 834.9 286.1 835.8 287.9C836.7 289.6 837.6 291.4 838.5 293.2C839.4 295.0 840.4 296.7 841.3 298.5C842.2 300.3 843.1 302.1 844.0 303.9C844.9 305.6 845.8 307.4 846.7 309.2C847.6 311.0 848.5 312.8 849.4 314.6C850.3 316.4 851.2 318.2 852.1 320.0C853.0 321.7 853.9 323.5 854.9 325.3C855.8 327.0 856.8 328.7 857.9 330.5C858.9 332.2 859.9 333.9 860.9 335.6C861.9 337.4 862.9 339.1 863.9 340.8C864.9 342.5 865.9 344.3 866.9 346.0C867.9 347.7 868.9 349.5 869.9 351.2C870.9 353.0 871.9 354.7 872.9 356.4C873.9 358.2 874.9 359.9 875.9 361.6C876.9 363.4 877.9 365.1 878.9 366.8C879.9 368.6 880.9 370.3 881.9 372.0C883.0 373.7 884.0 375.4 885.0 377.1C886.0 378.9 887.0 380.6 888.1 382.3C889.1 384.0 890.1 385.7 891.3 387.4C892.4 389.0 893.7 390.6 894.9 392.2C896.1 393.7 897.3 395.3 898.6 396.9C899.8 398.5 901.0 400.0 902.2 401.6C903.5 403.2 904.7 404.8 905.9 406.4C907.2 407.9 908.4 409.5 909.6 411.1C910.8 412.7 912.1 414.3 913.3 415.8C914.5 417.4 915.8 419.0 917.0 420.6C918.2 422.2 919.4 423.7 920.6 425.3C921.9 426.9 923.1 428.5 924.3 430.1C925.5 431.7 926.7 433.3 927.9 434.9C929.1 436.5 930.2 438.1 931.5 439.7C932.7 441.2 934.0 442.8 935.4 444.2C936.7 445.7 938.2 447.1 939.6 448.5C941.0 449.9 942.4 451.3 943.8 452.7C945.3 454.2 946.7 455.6 948.1 457.0C949.5 458.4 950.9 459.8 952.3 461.2C953.7 462.6 955.2 464.1 956.6 465.5C958.0 466.9 959.4 468.3 960.8 469.7C962.2 471.1 963.6 472.5 965.1 474.0C966.5 475.4 967.9 476.8 969.4 478.1C970.8 479.5 972.3 480.9 973.7 482.2C975.2 483.6 976.7 485.0 978.1 486.3C979.6 487.7 981.0 489.1 982.5 490.4C984.0 491.8 985.5 493.1 987.0 494.4C988.6 495.6 990.1 496.9 991.7 498.1C993.2 499.4 994.8 500.7 996.3 501.9C997.9 503.2 999.4 504.5 1001.0 505.6C1002.7 506.8 1004.4 507.9 1006.1 508.9C1007.7 510.0 1009.5 511.0 1011.2 512.1C1012.9 513.1 1014.6 514.2 1016.3 515.2C1018.0 516.2 1019.7 517.3 1021.4 518.3C1023.2 519.3 1024.9 520.2 1026.7 521.2C1028.4 522.2 1030.2 523.2 1031.9 524.1C1033.7 525.1 1035.4 526.1 1037.2 527.0C1038.9 527.9 1040.7 528.8 1042.6 529.6C1044.4 530.3 1046.3 531.0 1048.2 531.6C1050.1 532.3 1052.0 533.0 1053.8 533.7C1055.7 534.4 1057.6 535.1 1059.5 535.6C1061.4 536.2 1063.4 536.6 1065.3 537.1C1067.3 537.6 1069.2 538.0 1071.2 538.5C1073.1 539.0 1075.0 539.5 1077.0 539.9C1078.9 540.3 1080.9 540.8 1082.9 541.1C1084.8 541.5 1086.8 541.9 1088.8 542.2C1090.7 542.6 1092.7 542.9 1094.7 543.3C1096.6 543.6 1098.6 544.0 1100.6 544.3C1102.6 544.6 1104.5 544.9 1106.5 545.2C1108.5 545.4 1110.5 545.7 1112.5 545.9C1114.5 546.2 1116.4 546.5 1118.4 546.7C1120.4 547.0 1122.4 547.2 1124.4 547.4C1126.4 547.5 1128.4 547.6 1130.4 547.8C1132.4 547.9 1134.4 548.0 1136.4 548.1C1138.4 548.3 1140.3 548.4 1142.3 548.5C1144.3 548.6 1146.3 548.8 1148.3 548.9C1150.3 549.1 1152.3 549.3 1154.3 549.4C1156.3 549.6 1158.3 549.7 1160.3 549.9C1162.3 550.0 1164.3 550.2 1166.3 550.4C1168.3 550.5 1170.3 550.7 1172.3 550.8C1174.2 551.0 1176.2 551.2 1178.2 551.3C1180.2 551.5 1182.2 551.6 1184.2 551.8C1186.2 551.9 1188.2 552.1 1190.2 552.2C1192.2 552.3 1194.2 552.4 1196.2 552.5C1198.2 552.6 1200.2 552.7 1202.2 552.8C1204.2 552.9 1206.2 553.0 1208.2 553.1C1210.2 553.2 1212.2 553.3 1214.2 553.4C1216.2 553.5 1218.2 553.6 1220.2 553.7C1222.2 553.8 1224.2 553.9 1226.2 554.0C1228.2 554.1 1230.1 554.2 1232.1 554.3C1234.1 554.3 1236.1 554.3 1238.1 554.3C1240.1 554.3 1242.1 554.3 1244.1 554.3C1246.1 554.3 1248.1 554.3 1250.1 554.3C1252.1 554.3 1254.1 554.3 1256.1 554.3C1258.1 554.3 1260.1 554.3 1262.1 554.3C1264.1 554.3 1266.1 554.3 1268.1 554.3C1270.1 554.3 1272.1 554.3 1274.1 554.3C1276.1 554.3 1278.1 554.3 1280.1 554.3C1282.1 554.3 1284.1 554.3 1286.1 554.3C1288.1 554.3 1290.1 554.3 1292.1 554.3C1294.1 554.3 1296.1 554.3 1298.1 554.3C1300.1 554.3 1302.1 554.3 1304.1 554.3C1306.1 554.3 1308.1 554.3 1310.1 554.3C1312.1 554.3 1314.1 554.3 1316.1 554.3C1318.1 554.3 1320.1 554.3 1322.1 554.3C1324.1 554.3 1326.1 554.3 1328.1 554.3C1330.1 554.3 1332.1 554.3 1334.1 554.3C1336.1 554.3 1338.1 554.3 1340.1 554.3C1342.1 554.3 1344.1 554.3 1346.1 554.4C1348.1 554.4 1350.1 554.4 1352.1 554.5C1354.1 554.5 1356.1 554.5 1358.1 554.6C1360.1 554.6 1362.1 554.7 1364.1 554.7C1366.1 554.7 1368.1 554.8 1370.1 554.8C1372.1 554.8 1374.1 554.9 1376.1 554.9C1378.1 554.9 1380.1 555.0 1382.1 555.0C1384.1 555.1 1386.5 555.1 1388.1 555.1C1389.8 555.2 1391.4 555.2 1392.0 555.2"/>
<path d="M543.6 794.5C544.5 794.1 547.2 792.5 549.0 792.0C550.8 791.5 552.7 791.5 554.7 791.6C556.6 791.8 558.6 792.8 560.5 792.7C562.3 792.6 564.1 791.9 565.8 791.1C567.6 790.3 569.3 789.0 570.9 787.8C572.4 786.6 573.9 785.3 575.3 783.9C576.8 782.5 578.2 781.1 579.6 779.7C580.9 778.2 582.3 776.7 583.3 775.1C584.3 773.4 584.8 771.4 585.6 769.6C586.3 767.7 586.9 765.8 587.6 763.9C588.3 762.0 588.9 760.2 589.7 758.3C590.4 756.5 591.2 754.6 592.1 752.8C592.9 751.0 593.7 749.2 594.5 747.3C595.3 745.5 596.1 743.7 597.0 741.9C597.8 740.0 598.6 738.2 599.5 736.4C600.3 734.6 601.2 732.8 602.1 731.0C603.0 729.2 603.9 727.4 604.8 725.6C605.7 723.9 606.6 722.1 607.5 720.3C608.4 718.5 609.2 716.7 610.1 714.9C611.1 713.1 612.0 711.4 612.9 709.6C613.9 707.8 614.9 706.1 615.8 704.4C616.8 702.6 617.8 700.9 618.8 699.1C619.8 697.4 620.6 695.5 621.8 693.9C622.9 692.3 624.2 690.8 625.6 689.4C627.0 688.0 628.8 686.9 630.0 685.4C631.2 683.9 632.2 682.2 633.1 680.4C633.9 678.7 634.5 676.7 635.2 674.9C635.9 673.0 636.6 671.1 637.3 669.2C638.0 667.4 638.8 665.5 639.5 663.7C640.3 661.8 641.1 660.0 641.9 658.1C642.7 656.3 643.4 654.5 644.2 652.6C645.0 650.8 645.7 648.9 646.7 647.1C647.6 645.4 648.7 643.7 649.8 642.1C651.0 640.6 652.5 639.1 653.8 637.6C655.1 636.1 656.4 634.6 657.6 633.0C658.9 631.5 660.1 629.9 661.3 628.3C662.6 626.7 663.8 625.1 665.0 623.6C666.3 622.1 667.7 620.6 669.0 619.1C670.3 617.6 671.6 616.1 673.0 614.6C674.4 613.2 675.8 611.8 677.3 610.5C678.9 609.3 680.6 608.2 682.3 607.2C684.0 606.2 685.8 605.3 687.6 604.6C689.5 604.0 691.5 603.6 693.4 603.3C695.4 602.9 697.4 602.6 699.3 602.6C701.3 602.6 703.3 603.3 705.2 603.5C707.1 603.6 709.1 603.5 711.0 603.3C712.9 603.2 714.8 602.4 716.7 602.6C718.6 602.7 720.4 603.6 722.2 604.4C724.0 605.2 725.8 606.1 727.5 607.2C729.2 608.3 730.7 609.6 732.3 610.7C734.0 611.9 735.6 613.0 737.3 614.0C739.0 615.1 741.0 615.7 742.6 616.8C744.2 617.9 745.7 619.1 747.0 620.6C748.3 622.0 749.2 623.9 750.3 625.6C751.3 627.3 752.4 629.0 753.4 630.7C754.5 632.4 755.5 634.1 756.4 635.9C757.4 637.6 758.3 639.4 759.2 641.2C760.1 643.0 760.9 644.8 761.8 646.6C762.7 648.4 763.6 650.2 764.5 651.9C765.4 653.7 766.4 655.5 767.3 657.2C768.3 659.0 769.3 660.7 770.2 662.5C771.2 664.2 772.2 666.0 773.1 667.7C774.1 669.5 775.1 671.2 776.0 673.0C777.0 674.8 777.9 676.5 778.8 678.3C779.7 680.1 780.5 681.9 781.3 683.8C782.1 685.6 783.0 687.4 783.8 689.2C784.6 691.1 785.4 692.9 786.3 694.7C787.1 696.5 787.9 698.3 788.8 700.2C789.6 702.0 790.4 703.8 791.2 705.6C792.1 707.4 792.9 709.3 793.7 711.1C794.5 712.9 795.4 714.7 796.2 716.5C797.0 718.4 797.9 720.2 798.7 722.0C799.5 723.8 800.3 725.7 801.2 727.5C802.0 729.3 802.8 731.1 803.7 732.9C804.6 734.7 805.5 736.5 806.4 738.3C807.3 740.1 808.2 741.8 809.1 743.6C810.0 745.4 810.9 747.2 811.8 749.0C812.6 750.8 813.6 752.6 814.4 754.4C815.3 756.2 816.1 758.0 817.0 759.8C817.8 761.6 818.6 763.4 819.5 765.3C820.3 767.1 821.1 768.9 822.0 770.7C822.8 772.5 823.6 774.4 824.5 776.2C825.3 778.0 826.1 779.8 826.9 781.6C827.8 783.5 828.6 785.3 829.4 787.1C830.2 788.9 831.0 790.8 831.8 792.6C832.6 794.4 833.4 796.3 834.2 798.1C835.0 799.9 835.8 801.8 836.7 803.6C837.5 805.4 838.4 807.2 839.3 809.0C840.1 810.8 841.0 812.6 841.9 814.4C842.8 816.1 843.7 817.9 844.6 819.7C845.5 821.5 846.4 823.3 847.3 825.1C848.3 826.8 849.3 828.6 850.3 830.3C851.3 832.0 852.3 833.7 853.3 835.5C854.3 837.2 855.3 838.9 856.3 840.7C857.3 842.4 858.3 844.1 859.3 845.8C860.4 847.6 861.4 849.3 862.4 851.0C863.4 852.8 864.4 854.5 865.4 856.2C866.5 857.9 867.5 859.6 868.5 861.3C869.6 863.0 870.6 864.8 871.6 866.5C872.6 868.2 873.7 869.9 874.7 871.6C875.8 873.3 876.8 875.0 877.9 876.7C878.9 878.4 880.0 880.1 881.1 881.8C882.1 883.5 883.2 885.2 884.2 886.9C885.3 888.6 886.4 890.3 887.4 892.0C888.4 893.7 889.3 895.5 890.3 897.2C891.3 899.0 892.3 900.7 893.2 902.5C894.2 904.2 895.1 906.0 896.1 907.7C897.1 909.5 898.0 911.3 899.1 912.9C900.2 914.6 901.5 916.1 902.8 917.7C904.0 919.2 905.4 920.7 906.7 922.2C908.0 923.7 909.3 925.2 910.6 926.8C911.9 928.3 913.2 929.8 914.5 931.3C915.8 932.8 917.1 934.3 918.4 935.9C919.7 937.4 921.0 938.9 922.3 940.4C923.6 941.9 924.9 943.5 926.2 945.0C927.5 946.5 928.8 948.0 930.1 949.5C931.4 951.0 932.7 952.6 934.0 954.1C935.3 955.6 936.6 957.1 937.9 958.6C939.2 960.2 940.5 961.7 941.8 963.2C943.1 964.7 944.5 966.2 945.9 967.6C947.2 969.1 948.7 970.5 950.1 971.9C951.5 973.3 952.9 974.7 954.4 976.1C955.8 977.5 957.2 978.9 958.6 980.3C960.0 981.7 961.4 983.2 962.9 984.6C964.3 986.0 965.7 987.4 967.1 988.8C968.5 990.3 969.9 991.7 971.3 993.1C972.7 994.5 974.2 995.9 975.6 997.3C977.1 998.6 978.6 1000.0 980.0 1001.3C981.5 1002.7 983.0 1004.0 984.4 1005.4C985.9 1006.7 987.4 1008.1 988.9 1009.4C990.4 1010.7 991.9 1012.0 993.5 1013.3C995.0 1014.6 996.5 1015.9 998.1 1017.1C999.6 1018.4 1001.1 1019.7 1002.7 1020.9C1004.3 1022.2 1005.9 1023.3 1007.6 1024.5C1009.2 1025.6 1010.9 1026.7 1012.5 1027.9C1014.2 1029.0 1015.8 1030.1 1017.5 1031.2C1019.1 1032.4 1020.8 1033.5 1022.4 1034.6C1024.1 1035.7 1025.7 1036.9 1027.4 1038.0C1029.1 1039.1 1030.7 1040.2 1032.4 1041.3C1034.1 1042.4 1035.7 1043.6 1037.4 1044.6C1039.1 1045.6 1040.9 1046.5 1042.7 1047.5C1044.4 1048.4 1046.2 1049.3 1048.0 1050.2C1049.8 1051.1 1051.6 1052.0 1053.4 1052.8C1055.2 1053.6 1057.1 1054.3 1059.0 1055.0C1060.9 1055.6 1062.8 1056.1 1064.7 1056.6C1066.7 1057.2 1068.6 1057.8 1070.5 1058.3C1072.4 1058.8 1074.4 1059.3 1076.3 1059.7C1078.3 1060.1 1080.3 1060.5 1082.2 1060.9C1084.2 1061.3 1086.1 1061.6 1088.1 1062.0C1090.1 1062.4 1092.0 1062.8 1094.0 1063.2C1096.0 1063.6 1097.9 1063.9 1099.9 1064.2C1101.9 1064.5 1103.9 1064.8 1105.8 1065.0C1107.8 1065.3 1109.8 1065.6 1111.8 1065.8C1113.8 1066.1 1115.8 1066.4 1117.7 1066.6C1119.7 1066.9 1121.7 1067.1 1123.7 1067.3C1125.7 1067.5 1127.7 1067.6 1129.7 1067.8C1131.7 1067.9 1133.7 1068.0 1135.7 1068.2C1137.7 1068.3 1139.6 1068.4 1141.6 1068.6C1143.6 1068.7 1145.6 1068.9 1147.6 1069.0C1149.6 1069.1 1151.6 1069.3 1153.6 1069.4C1155.6 1069.5 1157.6 1069.7 1159.6 1069.8C1161.6 1070.0 1163.6 1070.1 1165.6 1070.2C1167.6 1070.4 1169.6 1070.5 1171.6 1070.6C1173.6 1070.7 1175.6 1070.9 1177.6 1071.0C1179.6 1071.1 1181.6 1071.2 1183.6 1071.3C1185.6 1071.4 1187.6 1071.5 1189.6 1071.6C1191.5 1071.7 1193.5 1071.8 1195.5 1071.9C1197.5 1071.9 1199.5 1072.0 1201.5 1072.1C1203.5 1072.1 1205.5 1072.2 1207.5 1072.3C1209.5 1072.3 1211.5 1072.4 1213.5 1072.5C1215.5 1072.5 1217.5 1072.6 1219.5 1072.7C1221.5 1072.7 1223.5 1072.8 1225.5 1072.9C1227.5 1072.9 1229.5 1073.0 1231.5 1073.0C1233.5 1073.1 1235.5 1073.2 1237.5 1073.2C1239.5 1073.3 1241.5 1073.4 1243.5 1073.4C1245.5 1073.4 1247.5 1073.4 1249.5 1073.4C1251.5 1073.4 1253.5 1073.4 1255.5 1073.4C1257.5 1073.4 1259.5 1073.4 1261.5 1073.4C1263.5 1073.4 1265.5 1073.4 1267.5 1073.4C1269.5 1073.4 1271.5 1073.4 1273.5 1073.4C1275.5 1073.4 1277.5 1073.4 1279.5 1073.4C1281.5 1073.4 1283.5 1073.4 1285.5 1073.4C1287.5 1073.4 1289.5 1073.4 1291.5 1073.4C1293.5 1073.4 1295.5 1073.4 1297.5 1073.4C1299.5 1073.4 1301.5 1073.4 1303.5 1073.5C1305.5 1073.5 1307.5 1073.5 1309.5 1073.5C1311.5 1073.5 1313.5 1073.5 1315.5 1073.6C1317.5 1073.6 1319.5 1073.6 1321.5 1073.6C1323.5 1073.6 1325.5 1073.7 1327.5 1073.7C1329.5 1073.7 1331.5 1073.7 1333.5 1073.7C1335.5 1073.7 1337.5 1073.8 1339.5 1073.8C1341.5 1073.8 1343.5 1073.8 1345.5 1073.8C1347.5 1073.9 1349.5 1073.9 1351.5 1073.9C1353.5 1073.9 1355.5 1073.9 1357.5 1074.0C1359.5 1074.0 1361.5 1074.0 1363.5 1074.0C1365.5 1073.9 1367.5 1073.9 1369.5 1073.8C1371.5 1073.8 1373.5 1073.7 1375.5 1073.7C1377.5 1073.6 1379.5 1073.6 1381.5 1073.5C1383.5 1073.5 1385.5 1073.4 1387.5 1073.4C1389.5 1073.3 1392.5 1073.2 1393.5 1073.2"/>
<path d="M543.6 1334.4C544.5 1334.8 547.3 1335.8 549.2 1336.5C551.1 1337.2 553.0 1337.9 554.9 1338.4C556.8 1339.0 558.8 1339.5 560.7 1339.6C562.7 1339.8 564.6 1340.1 566.3 1339.6C568.1 1339.0 569.5 1337.5 571.1 1336.3C572.6 1335.1 574.1 1333.7 575.6 1332.4C577.1 1331.1 578.8 1329.8 580.1 1328.4C581.5 1327.0 582.8 1325.6 583.7 1323.9C584.6 1322.2 585.0 1320.1 585.6 1318.2C586.3 1316.3 586.8 1314.4 587.4 1312.5C588.0 1310.6 588.6 1308.7 589.3 1306.8C590.0 1305.0 590.9 1303.2 591.8 1301.4C592.6 1299.6 593.6 1297.8 594.5 1296.0C595.3 1294.2 596.2 1292.4 597.1 1290.6C598.0 1288.8 598.9 1287.0 599.8 1285.3C600.7 1283.5 601.6 1281.7 602.5 1279.9C603.4 1278.1 604.3 1276.3 605.2 1274.5C606.1 1272.7 607.0 1271.0 607.9 1269.2C608.8 1267.4 609.7 1265.6 610.6 1263.8C611.5 1262.0 612.4 1260.2 613.3 1258.4C614.2 1256.6 615.0 1254.9 615.9 1253.1C616.8 1251.3 617.7 1249.5 618.6 1247.7C619.5 1245.9 620.4 1244.1 621.2 1242.3C622.1 1240.5 622.9 1238.6 623.7 1236.8C624.5 1235.0 625.3 1233.2 626.2 1231.4C627.0 1229.5 627.8 1227.7 628.6 1225.9C629.5 1224.1 630.3 1222.2 631.1 1220.4C631.9 1218.6 632.6 1216.7 633.4 1214.9C634.1 1213.0 634.9 1211.2 635.6 1209.3C636.4 1207.4 637.1 1205.6 637.8 1203.7C638.6 1201.9 639.3 1200.0 640.1 1198.2C640.8 1196.3 641.5 1194.4 642.3 1192.6C643.0 1190.7 643.7 1188.8 644.4 1187.0C645.2 1185.1 645.9 1183.3 646.6 1181.4C647.3 1179.5 648.0 1177.6 648.8 1175.8C649.6 1174.0 650.4 1172.2 651.4 1170.4C652.4 1168.7 653.6 1167.1 654.8 1165.5C655.9 1163.9 657.1 1162.2 658.3 1160.6C659.4 1159.0 660.7 1157.4 661.9 1155.8C663.1 1154.2 664.3 1152.6 665.6 1151.1C667.0 1149.7 668.4 1148.4 670.0 1147.2C671.6 1146.1 673.4 1145.2 675.2 1144.2C676.9 1143.3 678.7 1142.3 680.5 1141.4C682.2 1140.5 684.0 1139.6 685.8 1138.7C687.6 1137.8 689.4 1136.9 691.3 1136.2C693.1 1135.5 695.1 1135.1 697.0 1134.6C699.0 1134.2 700.9 1133.6 702.9 1133.5C704.8 1133.4 706.8 1133.8 708.7 1134.2C710.6 1134.6 712.6 1135.0 714.5 1135.7C716.3 1136.4 718.1 1137.4 719.8 1138.3C721.5 1139.3 723.3 1140.4 724.8 1141.6C726.3 1142.9 727.6 1144.4 728.9 1145.9C730.2 1147.4 731.4 1149.0 732.7 1150.6C733.9 1152.1 735.2 1153.7 736.5 1155.2C737.8 1156.7 739.1 1158.2 740.4 1159.7C741.8 1161.2 743.1 1162.7 744.4 1164.2C745.8 1165.6 747.2 1167.1 748.6 1168.5C750.0 1169.9 751.5 1171.3 752.8 1172.7C754.2 1174.2 755.5 1175.7 756.6 1177.4C757.7 1179.0 758.5 1180.8 759.5 1182.6C760.4 1184.4 761.4 1186.1 762.3 1187.9C763.2 1189.7 764.2 1191.4 765.1 1193.2C766.0 1195.0 766.9 1196.8 767.8 1198.5C768.7 1200.3 769.6 1202.1 770.5 1203.9C771.4 1205.7 772.3 1207.5 773.2 1209.3C774.1 1211.1 775.0 1212.8 775.9 1214.6C776.7 1216.4 777.6 1218.2 778.4 1220.1C779.2 1221.9 779.8 1223.8 780.5 1225.7C781.2 1227.6 781.9 1229.5 782.5 1231.3C783.2 1233.2 783.9 1235.1 784.6 1237.0C785.3 1238.9 785.9 1240.8 786.6 1242.6C787.4 1244.5 788.1 1246.3 788.9 1248.2C789.7 1250.0 790.7 1251.7 791.6 1253.5C792.5 1255.3 793.4 1257.1 794.2 1258.9C795.1 1260.7 796.0 1262.5 796.9 1264.3C797.8 1266.1 798.7 1267.8 799.6 1269.6C800.5 1271.4 801.4 1273.2 802.3 1275.0C803.2 1276.8 804.1 1278.6 805.0 1280.4C805.9 1282.2 806.8 1283.9 807.7 1285.7C808.6 1287.5 809.5 1289.3 810.3 1291.1C811.2 1292.9 812.1 1294.7 813.0 1296.5C813.9 1298.3 814.8 1300.0 815.7 1301.8C816.6 1303.6 817.5 1305.4 818.4 1307.2C819.3 1309.0 820.2 1310.8 821.1 1312.6C822.0 1314.4 822.8 1316.2 823.7 1318.0C824.5 1319.8 825.3 1321.6 826.2 1323.4C827.0 1325.3 827.8 1327.1 828.6 1328.9C829.5 1330.7 830.3 1332.5 831.1 1334.4C832.0 1336.2 832.8 1338.0 833.6 1339.8C834.4 1341.7 835.2 1343.5 835.9 1345.3C836.7 1347.2 837.4 1349.1 838.1 1350.9C838.8 1352.8 839.5 1354.7 840.3 1356.5C841.0 1358.4 841.7 1360.3 842.4 1362.1C843.1 1364.0 843.8 1365.9 844.6 1367.7C845.3 1369.6 846.0 1371.5 846.7 1373.3C847.4 1375.2 848.2 1377.1 848.9 1378.9C849.7 1380.8 850.4 1382.6 851.2 1384.5C851.9 1386.3 852.7 1388.2 853.4 1390.1C854.2 1391.9 854.9 1393.8 855.7 1395.6C856.4 1397.5 857.2 1399.3 857.9 1401.2C858.7 1403.0 859.4 1404.9 860.2 1406.7C861.0 1408.6 861.8 1410.4 862.7 1412.2C863.5 1414.0 864.3 1415.8 865.1 1417.7C866.0 1419.5 866.8 1421.3 867.6 1423.1C868.5 1424.9 869.3 1426.8 870.1 1428.6C871.0 1430.4 871.8 1432.2 872.7 1434.0C873.6 1435.8 874.5 1437.6 875.4 1439.3C876.4 1441.1 877.3 1442.9 878.2 1444.6C879.2 1446.4 880.1 1448.2 881.0 1449.9C882.0 1451.7 882.9 1453.5 883.8 1455.2C884.8 1457.0 885.7 1458.8 886.7 1460.5C887.6 1462.3 888.6 1464.1 889.5 1465.8C890.5 1467.6 891.5 1469.3 892.4 1471.1C893.4 1472.8 894.4 1474.6 895.3 1476.3C896.3 1478.1 897.3 1479.8 898.3 1481.6C899.3 1483.3 900.3 1485.0 901.3 1486.7C902.3 1488.4 903.4 1490.1 904.5 1491.8C905.5 1493.5 906.6 1495.2 907.7 1496.9C908.7 1498.6 909.8 1500.3 910.9 1502.0C912.0 1503.6 913.1 1505.3 914.3 1506.9C915.5 1508.5 916.7 1510.1 917.9 1511.7C919.1 1513.3 920.3 1514.9 921.5 1516.5C922.7 1518.1 923.9 1519.7 925.1 1521.3C926.3 1522.9 927.6 1524.4 928.9 1526.0C930.1 1527.5 931.5 1529.0 932.8 1530.5C934.1 1532.0 935.4 1533.5 936.7 1535.1C938.0 1536.6 939.3 1538.1 940.6 1539.6C941.9 1541.1 943.2 1542.7 944.5 1544.2C945.7 1545.7 947.0 1547.3 948.3 1548.8C949.6 1550.3 950.9 1551.9 952.1 1553.4C953.4 1554.9 954.7 1556.5 956.0 1558.0C957.3 1559.5 958.6 1561.0 959.9 1562.6C961.2 1564.1 962.5 1565.6 963.8 1567.1C965.1 1568.6 966.4 1570.2 967.7 1571.7C969.1 1573.1 970.4 1574.6 971.8 1576.0C973.2 1577.5 974.7 1578.9 976.1 1580.3C977.5 1581.7 978.9 1583.1 980.3 1584.5C981.7 1585.9 983.2 1587.3 984.6 1588.7C986.1 1590.0 987.7 1591.3 989.2 1592.6C990.7 1593.9 992.3 1595.1 993.8 1596.4C995.3 1597.7 996.9 1599.0 998.4 1600.3C999.8 1601.7 1001.2 1603.1 1002.7 1604.5C1004.1 1605.9 1005.5 1607.3 1006.9 1608.7C1008.4 1610.1 1009.7 1611.6 1011.3 1612.8C1012.8 1614.1 1014.5 1615.2 1016.2 1616.3C1017.8 1617.4 1019.5 1618.5 1021.2 1619.6C1022.8 1620.7 1024.5 1621.8 1026.2 1622.9C1027.9 1623.9 1029.6 1624.9 1031.4 1625.9C1033.1 1626.9 1034.8 1627.9 1036.6 1628.9C1038.3 1629.8 1040.0 1630.9 1041.8 1631.8C1043.6 1632.7 1045.4 1633.6 1047.2 1634.4C1049.0 1635.3 1050.9 1636.0 1052.7 1636.8C1054.5 1637.6 1056.3 1638.5 1058.2 1639.3C1060.0 1640.0 1061.9 1640.8 1063.7 1641.5C1065.6 1642.2 1067.5 1642.8 1069.4 1643.4C1071.3 1644.0 1073.2 1644.6 1075.1 1645.2C1077.1 1645.8 1079.0 1646.4 1080.9 1647.0C1082.8 1647.5 1084.7 1648.1 1086.7 1648.6C1088.6 1649.1 1090.5 1649.6 1092.5 1650.0C1094.4 1650.5 1096.3 1651.0 1098.3 1651.5C1100.2 1652.0 1102.2 1652.4 1104.1 1652.8C1106.1 1653.2 1108.1 1653.5 1110.1 1653.8C1112.0 1654.2 1114.0 1654.5 1116.0 1654.8C1118.0 1655.1 1119.9 1655.4 1121.9 1655.7C1123.9 1656.0 1125.9 1656.2 1127.9 1656.4C1129.9 1656.6 1131.8 1656.8 1133.8 1657.0C1135.8 1657.2 1137.8 1657.4 1139.8 1657.6C1141.8 1657.8 1143.8 1658.0 1145.8 1658.2C1147.8 1658.4 1149.8 1658.5 1151.8 1658.7C1153.7 1658.8 1155.7 1659.0 1157.7 1659.1C1159.7 1659.2 1161.7 1659.4 1163.7 1659.5C1165.7 1659.6 1167.7 1659.8 1169.7 1659.9C1171.7 1660.0 1173.7 1660.2 1175.7 1660.3C1177.7 1660.4 1179.7 1660.5 1181.7 1660.7C1183.7 1660.8 1185.7 1660.9 1187.7 1661.0C1189.7 1661.2 1191.7 1661.3 1193.7 1661.4C1195.7 1661.5 1197.7 1661.6 1199.7 1661.8C1201.7 1661.9 1203.6 1662.0 1205.6 1662.1C1207.6 1662.2 1209.6 1662.2 1211.6 1662.3C1213.6 1662.4 1215.6 1662.4 1217.6 1662.4C1219.6 1662.5 1221.6 1662.5 1223.6 1662.6C1225.6 1662.6 1227.6 1662.6 1229.6 1662.7C1231.6 1662.7 1233.6 1662.8 1235.6 1662.8C1237.6 1662.8 1239.6 1662.9 1241.6 1662.9C1243.6 1663.0 1245.6 1663.0 1247.6 1663.0C1249.6 1663.1 1251.6 1663.1 1253.6 1663.2C1255.6 1663.2 1257.6 1663.3 1259.6 1663.3C1261.6 1663.3 1263.6 1663.3 1265.6 1663.3C1267.6 1663.3 1269.6 1663.3 1271.6 1663.3C1273.6 1663.3 1275.6 1663.3 1277.6 1663.3C1279.6 1663.3 1281.6 1663.3 1283.6 1663.3C1285.6 1663.3 1287.6 1663.3 1289.6 1663.3C1291.6 1663.3 1293.6 1663.3 1295.6 1663.3C1297.6 1663.3 1299.6 1663.3 1301.6 1663.3C1303.6 1663.3 1305.6 1663.3 1307.6 1663.3C1309.6 1663.3 1311.6 1663.3 1313.6 1663.3C1315.6 1663.3 1317.6 1663.3 1319.6 1663.3C1321.6 1663.3 1323.6 1663.3 1325.6 1663.3C1327.6 1663.3 1329.6 1663.3 1331.6 1663.3C1333.6 1663.3 1335.6 1663.3 1337.6 1663.3C1339.6 1663.3 1341.6 1663.3 1343.6 1663.3C1345.6 1663.3 1347.6 1663.3 1349.6 1663.3C1351.6 1663.3 1353.6 1663.3 1355.6 1663.3C1357.6 1663.3 1359.6 1663.3 1361.6 1663.3C1363.6 1663.3 1365.6 1663.3 1367.6 1663.3C1369.6 1663.3 1371.6 1663.3 1373.6 1663.3C1375.6 1663.3 1377.6 1663.3 1379.6 1663.3C1381.6 1663.3 1383.6 1663.3 1385.6 1663.3C1387.6 1663.3 1390.3 1663.3 1391.6 1663.3C1392.9 1663.3 1393.3 1663.3 1393.6 1663.3"/>
</g>
<text class="tk" text-anchor="end" transform="translate(244.7 570.0) scale(1.000 1.075)">0</text>
<text class="tk" text-anchor="end" transform="translate(244.7 486.0) scale(1.000 1.075)">200</text>
<text class="tk" text-anchor="end" transform="translate(244.7 402.0) scale(1.000 1.075)">400</text>
<text class="tk" text-anchor="end" transform="translate(244.7 318.0) scale(1.000 1.075)">600</text>
<text class="tk" text-anchor="end" transform="translate(244.7 234.0) scale(1.000 1.075)">800</text>
<text class="tk" text-anchor="end" transform="translate(244.7 150.0) scale(1.000 1.075)">1000</text>
<text class="tk" text-anchor="end" transform="translate(244.7 1089.6) scale(1.000 1.075)">0</text>
<text class="tk" text-anchor="end" transform="translate(244.7 1003.9) scale(1.000 1.075)">200</text>
<text class="tk" text-anchor="end" transform="translate(244.7 918.2) scale(1.000 1.075)">400</text>
<text class="tk" text-anchor="end" transform="translate(244.7 832.6) scale(1.000 1.075)">600</text>
<text class="tk" text-anchor="end" transform="translate(244.7 746.9) scale(1.000 1.075)">800</text>
<text class="tk" text-anchor="end" transform="translate(244.7 661.2) scale(1.000 1.075)">1000</text>
<text class="tk" text-anchor="end" transform="translate(244.7 1679.7) scale(1.000 1.075)">0</text>
<text class="tk" text-anchor="end" transform="translate(244.7 1582.2) scale(1.000 1.075)">200</text>
<text class="tk" text-anchor="end" transform="translate(244.7 1484.8) scale(1.000 1.075)">400</text>
<text class="tk" text-anchor="end" transform="translate(244.7 1387.3) scale(1.000 1.075)">600</text>
<text class="tk" text-anchor="end" transform="translate(244.7 1289.9) scale(1.000 1.075)">800</text>
<text class="tk" text-anchor="end" transform="translate(244.7 1192.4) scale(1.000 1.075)">1000</text>
<text class="tk" text-anchor="middle" transform="translate(258.9 1735.4) scale(1.000 1.070)">300</text>
<text class="tk" text-anchor="middle" transform="translate(543.5 1735.4) scale(1.000 1.070)">400</text>
<text class="tk" text-anchor="middle" transform="translate(828.1 1735.4) scale(1.000 1.070)">500</text>
<text class="tk" text-anchor="middle" transform="translate(1112.7 1735.4) scale(1.000 1.070)">600</text>
<text class="an" transform="translate(356.7 100.5) scale(1.000 1.030)">367 nm</text>
<text class="an" transform="translate(624.0 98.5) scale(1.000 1.030)">448 nm</text>
<text class="an" transform="translate(355.6 459.3) scale(1.030 1.030)">Em@</text>
<text class="an" transform="translate(355.6 532.9) scale(1.000 1.030)">448 nm</text>
<text class="an" transform="translate(931.4 397.8) scale(1.000 1.030)">Ex@367 nm</text>
<text class="an" transform="translate(362.5 615.7) scale(1.000 1.030)">367 nm</text>
<text class="an" transform="translate(613.2 606.7) scale(1.000 1.030)">454 nm</text>
<text class="an" transform="translate(356.3 987.8) scale(1.030 1.030)">Em@</text>
<text class="an" transform="translate(356.3 1060.5) scale(1.000 1.030)">454 nm</text>
<text class="an" transform="translate(939.5 907.0) scale(1.027 1.030)">Ex@367 nm</text>
<text class="an" transform="translate(360.4 1129.3) scale(1.000 1.030)">368 nm</text>
<text class="an" transform="translate(601.3 1127.0) scale(1.000 1.030)">456 nm</text>
<text class="an" transform="translate(361.6 1551.2) scale(1.030 1.030)">Em@</text>
<text class="an" transform="translate(361.6 1624.1) scale(1.000 1.030)">456 nm</text>
<text class="an" transform="translate(948.7 1462.1) scale(1.000 1.030)">Ex@368 nm</text>
<text class="ti1" transform="translate(988.3 123.2) scale(1.000 1.040)">BT Monomer</text>
<text class="ti2" transform="translate(879.6 629.8) scale(1.000 1.055)">PBT synthesized</text>
<text class="ti" transform="translate(878.9 708.0) scale(1.000 1.055)">with H<tspan class="sub">2</tspan>O<tspan class="sub">2</tspan></text>
<text class="ti2" transform="translate(878.9 1161.4) scale(1.000 1.055)">PBT synthesized</text>
<text class="ti" transform="translate(878.9 1239.6) scale(1.000 1.055)">with I<tspan class="sub">2</tspan></text>
<text class="axx" transform="translate(424.5 1805.7) scale(1.000 1.057)">Wavelength (nm)</text>
<text class="ax" transform="translate(81.7 1818.9) rotate(-90)">Fluorescent excitation / <tspan class="red">emission</tspan> intensity (a.u.)</text>
</svg>
</body></html>
